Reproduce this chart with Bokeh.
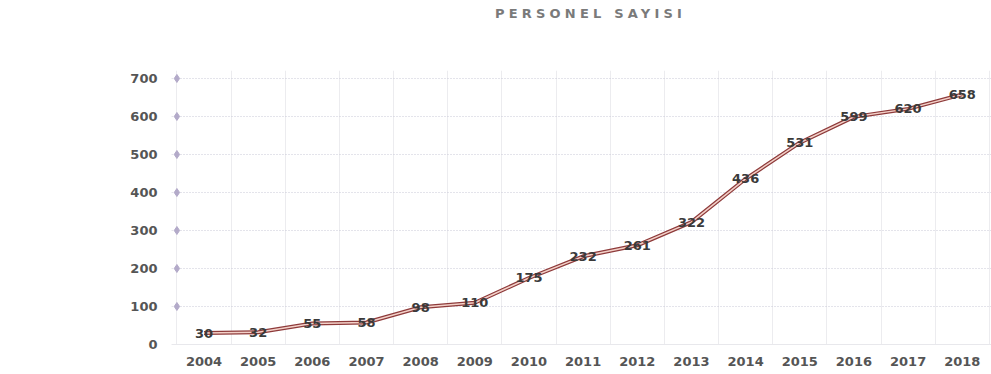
from bokeh.plotting import figure
from bokeh.models import FixedTicker, Range1d, Div, ColumnDataSource
from bokeh.layouts import column
from bokeh.core.properties import value
from bokeh.embed import file_html
from bokeh.resources import INLINE

years = ["2004", "2005", "2006", "2007", "2008", "2009", "2010", "2011",
         "2012", "2013", "2014", "2015", "2016", "2017", "2018"]
staff = [30, 32, 55, 58, 98, 110, 175, 232, 261, 322, 436, 531, 599, 620, 658]
y_ticks = [0, 100, 200, 300, 400, 500, 600, 700]
title_text = "PERSONEL SAYISI"

xs = list(range(len(years)))
src = ColumnDataSource(dict(x=xs, y=staff, lbl=[str(v) for v in staff]))

p = figure(width=991, height=334, output_backend="svg", toolbar_location=None,
           x_range=Range1d(-0.6, len(years) - 0.46), y_range=Range1d(0, 721),
           min_border_left=171, min_border_right=0, min_border_top=30,
           min_border_bottom=30)
p.outline_line_color = None
p.background_fill_color = "white"

p.xaxis.ticker = FixedTicker(ticks=xs, minor_ticks=[i - 0.5 for i in range(len(years) + 1)])
p.xaxis.major_label_overrides = {i: y for i, y in enumerate(years)}
p.yaxis.ticker = FixedTicker(ticks=y_ticks)

for ax in (p.xaxis, p.yaxis):
    ax.major_tick_line_color = None
    ax.minor_tick_line_color = None
    ax.major_label_text_font = "DejaVu Sans"
    ax.major_label_text_font_style = "bold"
    ax.major_label_text_font_size = "13px"
    ax.major_label_text_color = "#555555"
p.xaxis.axis_line_color = "#e8e8ec"
p.yaxis.axis_line_color = None
p.yaxis.major_label_standoff = 8
p.xaxis.major_label_standoff = 6

p.xgrid.grid_line_color = None
p.xgrid.minor_grid_line_color = "#ececef"
p.ygrid.grid_line_color = "#c9c9d6"
p.ygrid.grid_line_dash = "1 2"

# diamonds at tick positions
p.scatter(x=[-0.5] * (len(y_ticks) - 1), y=y_ticks[1:], marker="diamond",
          size=8, color="#b3aac9")

p.line("x", "y", source=src, line_color="#8e3b3b", line_width=4)
p.line("x", "y", source=src, line_color="#f3d0c8", line_width=1.5)

p.text("x", "y", text="lbl", source=src, text_align="center", text_baseline="middle",
       text_font=value("DejaVu Sans"), text_font_style="bold", text_font_size="13px",
       text_color="#3a3a3a")

div = Div(text=('<div style="padding:0 0 0 490px; font-family:\'DejaVu Sans\'; '
                'font-weight:bold; font-size:13px; letter-spacing:4.2px; color:#7a7a7a; '
                'white-space:nowrap;">' + title_text + '</div>'),
          width=991, height=30)

layout = column(div, p, spacing=0)
open("out.html", "w").write(file_html(layout, INLINE))
